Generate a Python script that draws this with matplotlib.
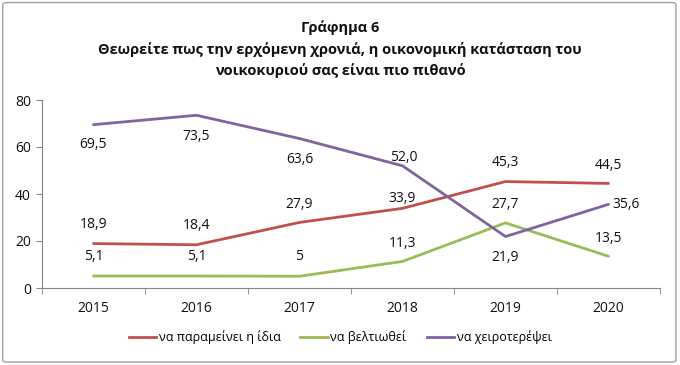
import matplotlib
matplotlib.use("Agg")
import matplotlib.pyplot as plt
from matplotlib.patches import FancyBboxPatch
from matplotlib.lines import Line2D

plt.rcParams['font.family'] = ['Open Sans', 'DejaVu Sans']

years = ["2015", "2016", "2017", "2018", "2019", "2020"]
same = [18.9, 18.4, 27.9, 33.9, 45.3, 44.5]
better = [5.1, 5.1, 5, 11.3, 27.7, 13.5]
worse = [69.5, 73.5, 63.6, 52.0, 21.9, 35.6]
same_lbl = ["18,9", "18,4", "27,9", "33,9", "45,3", "44,5"]
better_lbl = ["5,1", "5,1", "5", "11,3", "27,7", "13,5"]
worse_lbl = ["69,5", "73,5", "63,6", "52,0", "21,9", "35,6"]
names = ["να παραμείνει η ίδια", "να βελτιωθεί", "να χειροτερέψει"]
title = "Γράφημα 6\nΘεωρείτε πως την ερχόμενη χρονιά, η οικονομική κατάσταση του\nνοικοκυριού σας είναι πιο πιθανό"

colors = ["#C0504D", "#9BBB59", "#8064A2"]

fig = plt.figure(figsize=(6.8, 3.65), dpi=100)
fig.patches.append(FancyBboxPatch((0.004, 0.008), 0.99, 0.985, boxstyle="round,pad=0,rounding_size=0.006",
                                  transform=fig.transFigure, fill=False, edgecolor="#A0A0A0", lw=1.0))
ax = fig.add_axes([42/680, 1-288/365, 618/680, 188/365])
x = list(range(len(years)))

# label offsets in points (dx, dy)
off_same = [(0, 14), (0, 14), (0, 13), (0, 7), (0, 14), (0, 13)]
off_better = [(0, 14), (0, 14), (0, 14), (0, 13), (0, 13), (0, 13)]
off_worse = [(0, -14), (0, -15), (0, -15), (1, 6), (0, -15), (13, 0)]

for vals, lbls, offs, c, n in [(same, same_lbl, off_same, colors[0], names[0]),
                               (better, better_lbl, off_better, colors[1], names[1]),
                               (worse, worse_lbl, off_worse, colors[2], names[2])]:
    ax.plot(x, vals, color=c, lw=2.0, label=n, solid_capstyle='round')
    for xi, v, l, o in zip(x, vals, lbls, offs):
        ax.annotate(l, (xi, v), xytext=o, textcoords='offset points', ha='center', va='center',
                    fontsize=10, color='#111111')

ax.set_xlim(-0.5, 5.5)
ax.set_ylim(0, 80)
ax.set_yticks([0, 20, 40, 60, 80])
ax.set_xticks(x)
ax.set_xticklabels(years)
ax.set_xticks([i - 0.5 for i in range(len(years) + 1)], minor=True)
ax.tick_params(axis='x', which='major', length=0, pad=9, labelsize=10, labelcolor='#111111')
ax.tick_params(axis='x', which='minor', length=4, color='#868686')
ax.tick_params(axis='y', length=4, color='#868686', labelsize=10, pad=4, labelcolor='#111111')
for s in ['top', 'right']:
    ax.spines[s].set_visible(False)
for s in ['left', 'bottom']:
    ax.spines[s].set_color('#868686')

fig.text(0.5, 1-49/365, title, ha='center', va='center', fontsize=10.5, fontweight='bold',
         linespacing=1.55, color='#111111')

handles = [Line2D([0], [0], color=c, lw=2.0) for c in colors]
fig.legend(handles, names, loc='center', bbox_to_anchor=(0.5, 1-337/365), ncol=3, frameon=False,
           fontsize=9, handlelength=2.2, handletextpad=0.2, columnspacing=1.6)

fig.savefig("out.png", dpi=100)
